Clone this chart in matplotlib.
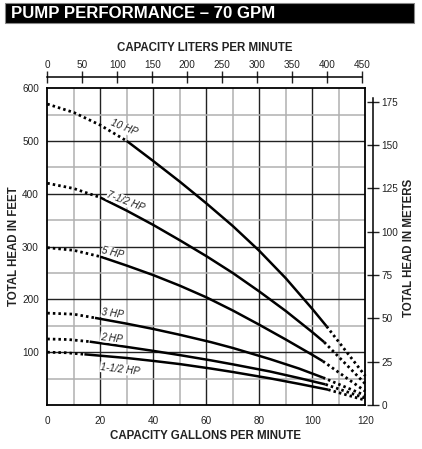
import matplotlib
matplotlib.use("Agg")
import matplotlib.pyplot as plt
from matplotlib.patches import Rectangle

plt.rcParams['font.family'] = ['Liberation Sans', 'DejaVu Sans']

# ---------------- data ----------------
hp_labels = ["10 HP", "7-1/2 HP", "5 HP", "3 HP", "2 HP", "1-1/2 HP"]

# dotted start (shutoff) segments
pre_10_x = [0, 10, 20, 30];          pre_10_y = [570, 554, 530, 500]
pre_75_x = [0, 10, 20];              pre_75_y = [420, 410, 393]
pre_5_x = [0, 10, 20];               pre_5_y = [298, 293, 281]
pre_3_x = [0, 10, 18];               pre_3_y = [174, 172, 165]
pre_2_x = [0, 8, 16];                pre_2_y = [125, 124, 120]
pre_15_x = [0, 7, 14];               pre_15_y = [100, 99, 96]

# solid operating range
sol_10_x = [30, 40, 50, 60, 70, 80, 90, 100, 105.4]
sol_10_y = [500, 462, 423, 382, 339, 292, 240, 182, 149]
sol_75_x = [20, 30, 40, 50, 60, 70, 80, 90, 100, 104.5]
sol_75_y = [393, 368, 341, 312, 282, 250, 215, 178, 138, 119]
sol_5_x = [20, 30, 40, 50, 60, 70, 80, 90, 100, 104]
sol_5_y = [281, 264, 246, 226, 204, 179, 152, 124, 95, 83]
sol_3_x = [18, 30, 40, 50, 61.8, 70, 84, 95, 104]
sol_3_y = [165, 154, 144, 133, 119, 108, 87, 69, 52]
sol_2_x = [16, 30, 40, 50, 61.8, 70, 84, 95, 105]
sol_2_y = [120, 110, 102.5, 94.5, 84.5, 77, 63.5, 51, 39]
sol_15_x = [14, 30, 40, 50, 61.8, 70, 84, 95, 106]
sol_15_y = [96, 89, 83.5, 77.5, 69, 62.5, 50.5, 40, 29]

# dotted run-out segments
post_10_x = [105.4, 120];            post_10_y = [149, 55]
post_75_x = [104.5, 120];            post_75_y = [119, 40]
post_5_x = [104, 120];               post_5_y = [83, 26]
post_3_x = [104, 120];               post_3_y = [52, 18]
post_2_x = [105, 120];               post_2_y = [39, 13]
post_15_x = [106, 120];              post_15_y = [29, 9]

# label anchor (gpm, ft) and rotation
lab_x = [28.8, 29.7, 24.8, 24.6, 24.3, 27.5]
lab_y = [525, 386, 288, 174, 127, 68]
lab_rot = [-22, -21, -14, -8, -7, -7]

gpm_ticks = [0, 20, 40, 60, 80, 100, 120]
ft_ticks = [100, 200, 300, 400, 500, 600]
lpm_ticks = [0, 50, 100, 150, 200, 250, 300, 350, 400, 450]
m_ticks = [0, 25, 50, 75, 100, 125, 150, 175]

GAL_TO_L = 3.785
FT_TO_M = 0.3048

# ---------------- figure ----------------
W, H = 422, 449
fig = plt.figure(figsize=(W / 100, H / 100), dpi=100)

def fx(px):
    return px / W

def fy(py):
    return 1 - py / H

x0, x1 = 47.3, 365.3
y0, y1 = 405.0, 88.2
ax = fig.add_axes([fx(x0), fy(y0), fx(x1) - fx(x0), fy(y1) - fy(y0)])
ax.set_xlim(0, 120)
ax.set_ylim(0, 600)

# grid
for g in range(10, 120, 10):
    major = (g % 20 == 0)
    ax.axvline(g, color='#222222' if major else '#b0b0b0', lw=1.0 if major else 1.1, zorder=1)
for g in range(50, 600, 50):
    major = (g % 100 == 0)
    ax.axhline(g, color='#222222' if major else '#b0b0b0', lw=1.0 if major else 1.1, zorder=1)

for s in ax.spines.values():
    s.set_linewidth(1.3)
    s.set_color('black')

ax.set_xticks(gpm_ticks)
ax.set_yticks(ft_ticks)
ax.tick_params(length=0, labelsize=7.2, colors='#222222', pad=6)
ax.tick_params(axis='x', pad=8)

pre = [(pre_10_x, pre_10_y), (pre_75_x, pre_75_y), (pre_5_x, pre_5_y),
       (pre_3_x, pre_3_y), (pre_2_x, pre_2_y), (pre_15_x, pre_15_y)]
sol = [(sol_10_x, sol_10_y), (sol_75_x, sol_75_y), (sol_5_x, sol_5_y),
       (sol_3_x, sol_3_y), (sol_2_x, sol_2_y), (sol_15_x, sol_15_y)]
post = [(post_10_x, post_10_y), (post_75_x, post_75_y), (post_5_x, post_5_y),
        (post_3_x, post_3_y), (post_2_x, post_2_y), (post_15_x, post_15_y)]

dot_style = dict(color='black', lw=2.0, linestyle=(0, (0.9, 1.1)),
                 dash_capstyle='butt', zorder=3, clip_on=False)
for (px_, py_), (sx, sy), (qx, qy) in zip(pre, sol, post):
    ax.plot(px_, py_, **dot_style)
    ax.plot(sx, sy, color='black', lw=1.8, solid_capstyle='butt',
            solid_joinstyle='round', zorder=4)
    ax.plot(qx, qy, **dot_style)

for t, lx, ly, r in zip(hp_labels, lab_x, lab_y, lab_rot):
    ax.text(lx, ly, t, rotation=r, rotation_mode='anchor', ha='center', va='center',
            fontsize=7.2, style='italic', color='#222222', zorder=5,
            bbox=dict(facecolor='white', edgecolor='none', pad=0.3))

title_kw = dict(fontsize=8.3, fontweight='bold', color='#222222')
fig.text(fx(206), fy(436), "CAPACITY GALLONS PER MINUTE", ha='center', va='center', **title_kw)
fig.text(fx(205), fy(48), "CAPACITY LITERS PER MINUTE", ha='center', va='center', **title_kw)
fig.text(fx(14), fy(246), "TOTAL HEAD IN FEET", ha='center', va='center',
         rotation=90, **title_kw)
fig.text(fx(409), fy(248), "TOTAL HEAD IN METERS", ha='center', va='center',
         rotation=90, **title_kw)

# top axis (liters per minute)
top_y = 77
axt = fig.add_axes([fx(x0), fy(top_y), fx(x1) - fx(x0), 0.0001])
axt.set_xlim(0, 120 * GAL_TO_L)
axt.set_ylim(0, 1)
for k in ['left', 'right', 'bottom']:
    axt.spines[k].set_visible(False)
axt.spines['top'].set_bounds(0, 450)
axt.spines['top'].set_linewidth(1.1)
axt.set_yticks([])
axt.set_xticks(lpm_ticks)
axt.xaxis.set_ticks_position('top')
axt.tick_params(axis='x', direction='inout', length=8, width=1.0, labelsize=7.2,
                colors='#222222', pad=1)
axt.patch.set_visible(False)

# right axis (meters)
right_x = 373
axr = fig.add_axes([fx(right_x) - 0.0001, fy(y0), 0.0001, fy(y1) - fy(y0)])
axr.set_ylim(0, 600 * FT_TO_M)
axr.set_xlim(0, 1)
for k in ['left', 'top', 'bottom']:
    axr.spines[k].set_visible(False)
axr.spines['right'].set_bounds(0, 177)
axr.spines['right'].set_linewidth(1.1)
axr.set_xticks([])
axr.set_yticks(m_ticks)
axr.yaxis.set_ticks_position('right')
axr.tick_params(axis='y', direction='inout', length=8, width=1.0, labelsize=7.2,
                colors='#222222', pad=2)
axr.patch.set_visible(False)

# title bar
fig.patches.append(Rectangle((fx(5), fy(23)), fx(414) - fx(5), fy(3) - fy(23),
                             transform=fig.transFigure, facecolor='black',
                             edgecolor='#888888', lw=0.8, zorder=0))
fig.text(fx(11), fy(13.5), "PUMP PERFORMANCE – 70 GPM", color='white',
         fontsize=12.1, fontweight='bold', ha='left', va='center')

fig.savefig("out.png", dpi=100)
